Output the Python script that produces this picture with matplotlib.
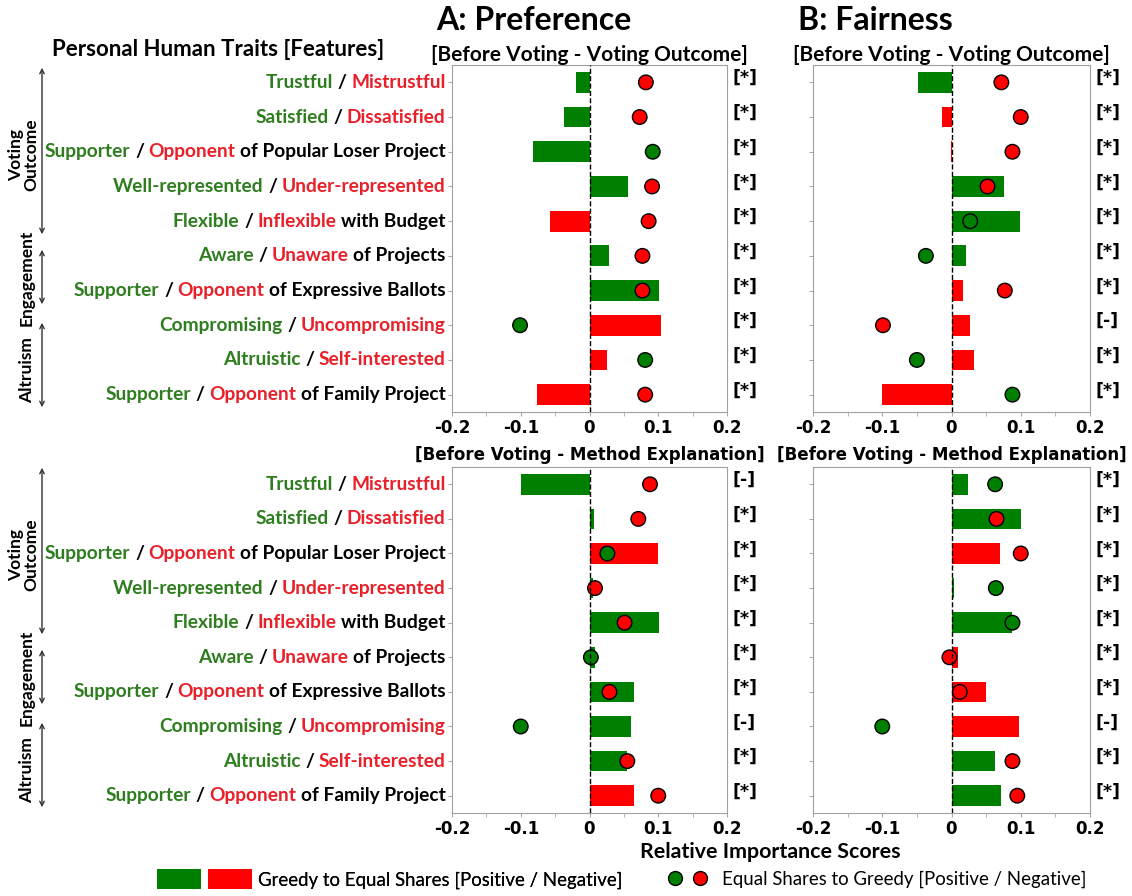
import matplotlib
matplotlib.use("Agg")
import matplotlib.pyplot as plt
from matplotlib.patches import Patch, FancyArrowPatch
from matplotlib.lines import Line2D
from matplotlib.legend_handler import HandlerTuple

# ---- data (rows top to bottom) ----
pos_traits = ["Trustful", "Satisfied", "Supporter", "Well-represented", "Flexible",
              "Aware", "Supporter", "Compromising", "Altruistic", "Supporter"]
neg_traits = ["Mistrustful", "Dissatisfied", "Opponent", "Under-represented", "Inflexible",
              "Unaware", "Opponent", "Uncompromising", "Self-interested", "Opponent"]
suffixes = ["", "", "of Popular Loser Project", "", "with Budget",
            "of Projects", "of Expressive Ballots", "", "", "of Family Project"]

xticks = [-0.2, -0.1, 0, 0.1, 0.2]
xtick_labels = ["-0.2", "-0.1", "0", "0.1", "0.2"]
minor_ticks = [-0.15, -0.05, 0.05, 0.15]

# A: Preference, voting outcome
a_top_bar = [-0.019, -0.037, -0.082, 0.056, -0.057, 0.029, 0.101, 0.104, 0.025, -0.077]
a_top_bar_col = ["g", "g", "g", "g", "r", "g", "g", "r", "r", "r"]
a_top_dot = [0.082, 0.073, 0.092, 0.091, 0.086, 0.077, 0.077, -0.101, 0.081, 0.081]
a_top_dot_col = ["r", "r", "g", "r", "r", "r", "r", "g", "g", "r"]
a_top_sig = ["*", "*", "*", "*", "*", "*", "*", "*", "*", "*"]

# B: Fairness, voting outcome
b_top_bar = [-0.048, -0.013, -0.001, 0.076, 0.099, 0.021, 0.017, 0.027, 0.032, -0.100]
b_top_bar_col = ["g", "r", "r", "g", "g", "g", "r", "r", "r", "r"]
b_top_dot = [0.072, 0.100, 0.088, 0.052, 0.027, -0.037, 0.077, -0.099, -0.050, 0.088]
b_top_dot_col = ["r", "r", "r", "r", "g", "g", "r", "r", "g", "g"]
b_top_sig = ["*", "*", "*", "*", "*", "*", "*", "-", "*", "*"]

# A: Preference, method explanation
a_bot_bar = [-0.100, 0.007, 0.100, 0.005, 0.101, 0.008, 0.065, 0.060, 0.055, 0.065]
a_bot_bar_col = ["g", "g", "r", "g", "g", "g", "g", "g", "g", "r"]
a_bot_dot = [0.088, 0.071, 0.026, 0.008, 0.051, 0.002, 0.029, -0.100, 0.055, 0.100]
a_bot_dot_col = ["r", "r", "g", "r", "r", "g", "r", "g", "r", "r"]
a_bot_sig = ["-", "*", "*", "*", "*", "*", "*", "-", "*", "*"]

# B: Fairness, method explanation
b_bot_bar = [0.024, 0.100, 0.070, 0.003, 0.088, 0.009, 0.050, 0.098, 0.063, 0.071]
b_bot_bar_col = ["g", "g", "r", "g", "g", "r", "r", "r", "g", "g"]
b_bot_dot = [0.063, 0.065, 0.100, 0.064, 0.088, -0.003, 0.012, -0.100, 0.088, 0.095]
b_bot_dot_col = ["g", "r", "r", "g", "g", "r", "r", "g", "r", "r"]
b_bot_sig = ["*", "*", "*", "*", "*", "*", "*", "-", "*", "*"]

COL = {"g": "#008000", "r": "#ff0000"}
TXT_G = "#2e7d1f"
TXT_R = "#e8202a"
SANS = ["Lato", "DejaVu Sans"]

W, H = 1132, 896
fig = plt.figure(figsize=(W / 100, H / 100), dpi=100)
fig.patch.set_facecolor("white")


def px_axes(x0, y0, x1, y1):
    return fig.add_axes([x0 / W, 1 - y1 / H, (x1 - x0) / W, (y1 - y0) / H])


def color_label(ax, y, parts, size=13.75):
    prev = None
    for text, color in reversed(parts):
        if not text:
            continue
        if prev is None:
            prev = ax.annotate(text, xy=(0, y), xycoords=ax.get_yaxis_transform(),
                               xytext=(-4.5, 0), textcoords="offset points",
                               ha="right", va="center", fontsize=size,
                               fontweight="bold", color=color, family=SANS)
        else:
            prev = ax.annotate(text, xy=(0, 0), xycoords=prev,
                               xytext=(-3.3, 0), textcoords="offset points",
                               ha="right", va="bottom", fontsize=size,
                               fontweight="bold", color=color, family=SANS)


def panel(ax, bars, bar_cols, dots, dot_cols, sig, title, title_font, labels):
    rows = list(range(len(bars)))
    ax.barh(rows, bars, height=0.6, color=[COL[c] for c in bar_cols],
            edgecolor="none", zorder=2)
    ax.scatter(dots, rows, s=110, c=[COL[c] for c in dot_cols],
               edgecolors="black", linewidths=1, zorder=3)
    ax.axvline(0, color="black", linestyle="--", linewidth=1, zorder=4)
    ax.set_xlim(-0.2, 0.2)
    ax.set_ylim(9.5, -0.5)
    ax.set_yticks(rows)
    ax.set_yticklabels([])
    ax.set_xticks(xticks)
    ax.set_xticks(minor_ticks, minor=True)
    ax.set_xticklabels(xtick_labels, fontsize=12, fontweight="bold")
    ax.tick_params(axis="both", which="both", length=3, color="#aaaaaa", pad=2)
    for sp in ax.spines.values():
        sp.set_color("#a0a0a0")
    for r, s in zip(rows, sig):
        ax.text(1.02, r - 0.12, f"[{s}]", transform=ax.get_yaxis_transform(),
                ha="left", va="center", fontsize=12.5, fontweight="bold")
    if title_font == "cal":
        ax.set_title(title, fontsize=15, fontweight="bold", family=SANS, pad=3)
    else:
        ax.set_title(title, fontsize=12, fontweight="bold", pad=5)
    if labels:
        for r in rows:
            color_label(ax, r, [(pos_traits[r], TXT_G), ("/", "black"),
                                (neg_traits[r], TXT_R), (suffixes[r], "black")])


ax1 = px_axes(452, 65, 727, 412)
ax2 = px_axes(813, 65, 1090, 412)
ax3 = px_axes(452, 467, 727, 813)
ax4 = px_axes(813, 467, 1090, 813)

panel(ax1, a_top_bar, a_top_bar_col, a_top_dot, a_top_dot_col, a_top_sig,
      "[Before Voting - Voting Outcome]", "cal", True)
panel(ax2, b_top_bar, b_top_bar_col, b_top_dot, b_top_dot_col, b_top_sig,
      "[Before Voting - Voting Outcome]", "cal", False)
panel(ax3, a_bot_bar, a_bot_bar_col, a_bot_dot, a_bot_dot_col, a_bot_sig,
      "[Before Voting - Method Explanation]", "dv", True)
panel(ax4, b_bot_bar, b_bot_bar_col, b_bot_dot, b_bot_dot_col, b_bot_sig,
      "[Before Voting - Method Explanation]", "dv", False)

# headers
fig.text(534 / W, 1 - 20 / H, "A: Preference", ha="center", va="center",
         fontsize=23, fontweight="bold", family=SANS)
fig.text(875 / W, 1 - 20 / H, "B: Fairness", ha="center", va="center",
         fontsize=23, fontweight="bold", family=SANS)
fig.text(52 / W, 1 - 50 / H, "Personal Human Traits [Features]", ha="left",
         va="center", fontsize=16, fontweight="bold", family=SANS)

# group brackets on the left
groups = [("Voting\nOutcome", 65, 237, 155, 24), ("Engagement", 247, 307, 278, 27),
          ("Altruism", 320, 410, 370, 27)]
for off in (0, 400):
    for name, y0, y1, ym, xm in groups:
        fig.add_artist(FancyArrowPatch(
            (42 / W, 1 - (y0 + off) / H), (42 / W, 1 - (y1 + off) / H),
            transform=fig.transFigure, arrowstyle="<->", mutation_scale=8,
            color="#333333", lw=1))
        fig.text(xm / W, 1 - (ym + off) / H, name, rotation=90, ha="center",
                 va="center", fontsize=12.5, fontweight="bold", family=SANS,
                 linespacing=0.95)

# x label
fig.text(770 / W, 1 - 852 / H, "Relative Importance Scores", ha="center", va="center",
         fontsize=15.4, fontweight="bold", family=SANS)

# legends
LFS = 13.4
bar_handles = (Patch(facecolor=COL["g"]), Patch(facecolor=COL["r"]))
dot_handles = (Line2D([], [], marker="o", ls="none", ms=10, mfc=COL["g"], mec="black"),
               Line2D([], [], marker="o", ls="none", ms=10, mfc=COL["r"], mec="black"))
leg1 = fig.legend([bar_handles], ["Greedy to Equal Shares [Positive / Negative]"],
                  handler_map={tuple: HandlerTuple(ndivide=None, pad=0.38)},
                  loc="center left", bbox_to_anchor=(157 / W, 1 - 879 / H),
                  frameon=False, handlelength=5.1, handleheight=1.2,
                  handletextpad=0.32, borderpad=0, borderaxespad=0,
                  prop={"family": SANS, "size": LFS})
fig.add_artist(leg1)
fig.legend([dot_handles], ["Equal Shares to Greedy [Positive / Negative]"],
           handler_map={tuple: HandlerTuple(ndivide=None, pad=0.3)},
           loc="center left", bbox_to_anchor=(665 / W, 1 - 879 / H),
           frameon=False, handlelength=2.4, handletextpad=0.67, borderpad=0,
           borderaxespad=0, prop={"family": SANS, "size": LFS})

fig.savefig("out.png", dpi=100, facecolor="white")
